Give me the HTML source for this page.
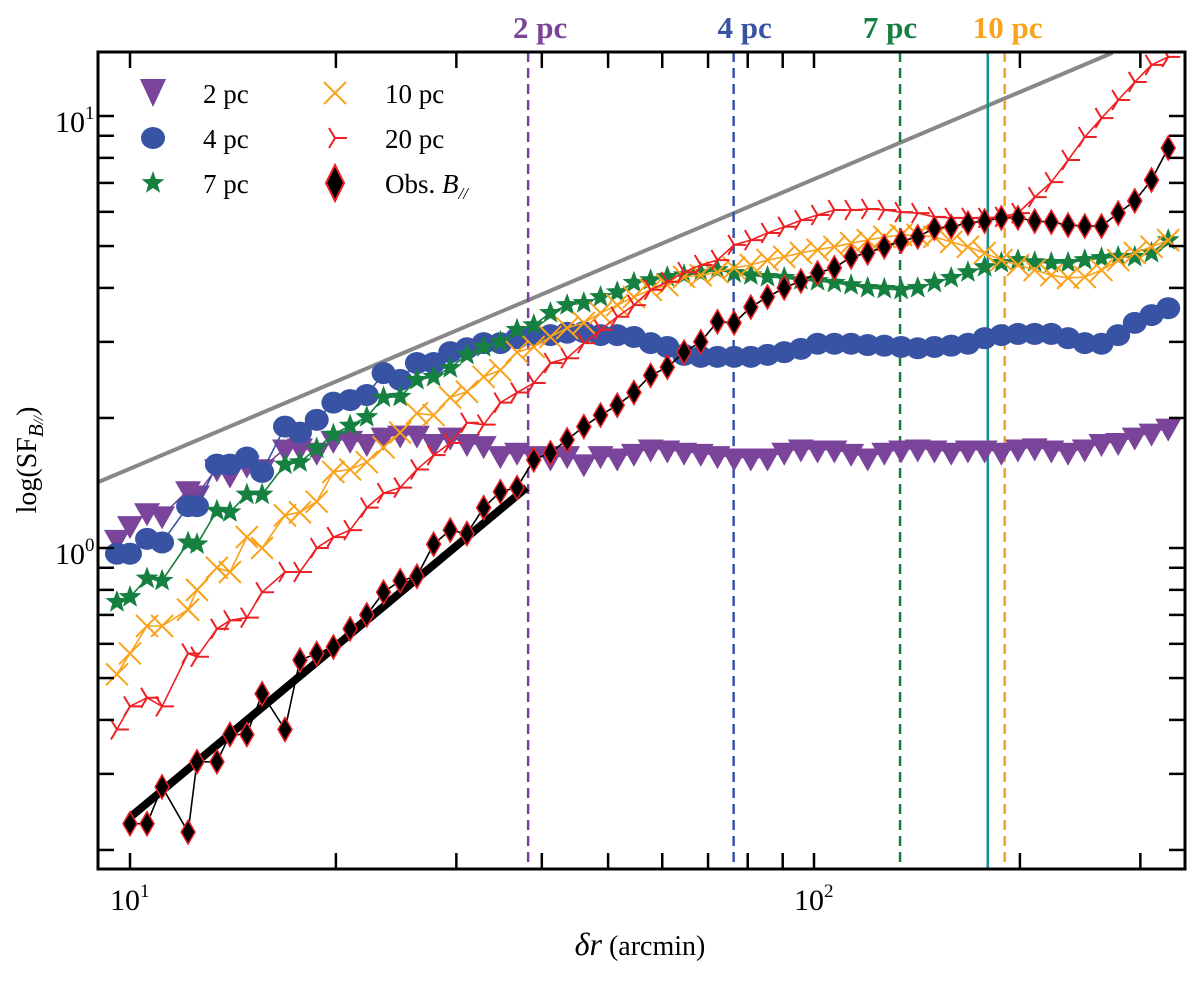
<!DOCTYPE html>
<html><head><meta charset="utf-8"><style>
html,body{margin:0;padding:0;background:#fff;}
svg{display:block;font-family:"Liberation Serif",serif;}
</style></head><body>
<svg id="chart" width="1200" height="987" viewBox="0 0 1200 987" xmlns="http://www.w3.org/2000/svg">
<g id="plot"></g>
</svg>
<script>
// ---- data ----
const xs = [9.57,10.0,10.59,11.14,12.16,12.53,13.40,14.0,14.82,15.6,16.85,
17.72,18.75,19.83,20.98,22.19,23.48,24.83,26.27,27.79,29.39,31.09,32.89,34.79,36.80,38.93,41.18,43.56,46.08,48.74,51.56,54.54,57.70,61.03,64.57,68.30,72.25,76.42,80.84,85.51,90.46,95.68,101.2,107.1,113.3,119.8,126.7,134.1,141.8,150.0,158.7,167.9,177.6,187.9,198.7,210.2,222.3,235.2,248.8,263.2,278.4,294.4,311.5,329.5];
const sf2pc = [1.05,1.13,1.21,1.19,1.36,1.33,1.53,1.48,1.56,1.53,1.70,
1.71,1.67,1.78,1.78,1.75,1.81,1.83,1.83,1.75,1.81,1.75,1.73,1.64,1.67,1.64,1.62,1.64,1.57,1.64,1.62,1.66,1.70,1.69,1.67,1.66,1.64,1.62,1.62,
1.62,1.67,1.70,1.69,1.69,1.66,1.62,1.67,1.69,1.70,1.69,1.67,1.69,1.69,1.67,1.70,1.71,1.69,1.67,1.70,1.75,1.76,1.81,1.85,1.90];
const sf4pc = [0.97,0.97,1.05,1.03,1.25,1.25,1.56,1.56,1.62,1.50,1.91,
1.85,1.98,2.17,2.20,2.26,2.54,2.45,2.68,2.68,2.84,2.90,2.98,2.98,3.06,3.11,3.11,3.15,3.16,3.11,3.11,3.08,2.98,2.92,2.80,2.77,2.77,2.77,2.77,
2.80,2.84,2.89,2.97,2.97,2.97,2.95,2.94,2.92,2.90,2.92,2.94,2.97,3.06,3.11,3.13,3.13,3.13,3.06,2.98,2.97,3.11,3.32,3.46,3.59];
const sf7pc = [0.75,0.77,0.85,0.84,1.03,1.02,1.22,1.21,1.33,1.33,1.56,
1.58,1.70,1.83,1.92,2.01,2.23,2.24,2.45,2.49,2.61,2.80,2.92,3.00,3.20,3.28,3.50,3.65,3.69,3.81,3.91,4.11,4.17,4.24,4.28,4.33,4.40,4.33,4.28,
4.24,4.22,4.17,4.15,4.11,4.06,4.00,3.98,3.96,4.00,4.11,4.22,4.35,4.47,4.57,4.64,4.59,4.57,4.57,4.64,4.69,4.72,4.72,4.82,5.16];
const sf10pc = [0.51,0.57,0.66,0.66,0.72,0.80,0.90,0.88,1.06,1.00,1.19,
1.21,1.28,1.50,1.52,1.58,1.71,1.85,2.05,2.03,2.23,2.30,2.49,2.58,2.84,2.92,3.08,3.23,3.32,3.50,3.65,3.81,3.96,4.06,4.24,4.28,4.35,4.45,4.52,
4.64,4.72,4.82,4.90,4.98,5.08,5.16,5.25,5.30,5.30,5.25,5.11,4.98,4.82,4.64,4.52,4.40,4.28,4.22,4.24,4.40,4.64,4.82,4.98,5.16];
const sf20pc = [0.38,0.43,0.45,0.43,0.57,0.56,0.65,0.68,0.69,0.79,0.88,
0.88,1.00,1.06,1.10,1.24,1.34,1.38,1.52,1.64,1.75,1.95,1.93,2.17,2.29,2.41,2.68,2.75,2.98,3.20,3.43,3.65,3.96,4.13,4.35,4.52,4.64,5.03,5.16,
5.36,5.54,5.74,5.90,6.06,6.06,6.09,6.06,5.99,5.96,5.84,5.81,5.81,5.81,5.84,5.96,6.49,7.03,7.91,8.94,9.89,10.89,11.99,13.13,13.70];
const obsX = xs.slice(1);
const sfObs = [0.23,0.23,0.28,0.22,0.32,0.32,0.37,0.37,0.46,0.38,
0.55,0.57,0.59,0.65,0.70,0.79,0.84,0.86,1.02,1.10,1.08,1.24,1.35,1.38,1.60,1.66,1.78,1.91,2.03,2.14,2.29,2.51,2.62,2.84,3.00,3.34,3.32,3.61,3.81,4.00,4.15,4.33,4.45,4.72,4.82,4.98,5.13,5.25,5.50,5.54,5.65,5.71,5.81,5.81,5.71,5.68,5.59,5.56,5.56,5.96,6.36,7.11,8.43];
const fitX = [10, 38];
const fitY = [0.238, 1.38];
const kolX = [8.98, 273];
const kolY = [1.42, 14.0];
const scaleLabels = ['2 pc','4 pc','7 pc','10 pc'];
const scaleX = [38.2, 76.3, 133.6, 190];
const beamX = [179.5];
const xMinorTicks = [20,30,40,50,60,70,80,90,200,300];
const xMajorTicks = [10,100];
const yMinorTicks = [0.2,0.3,0.4,0.5,0.6,0.7,0.8,0.9,2,3,4,5,6,7,8,9];
const yMajorTicks = [1,10];

// ---- axes ----
const L=98,R=1185,T=52,B=869;
const X0=130, XD=684, Y0=548, YD=432;
function xp(v){return X0+XD*(Math.log10(v)-1);}
function yp(v){return Y0-YD*Math.log10(v);}
const NS="http://www.w3.org/2000/svg";
const g=document.getElementById('plot');
function el(tag,attrs,parent){const e=document.createElementNS(NS,tag);for(const k in attrs)e.setAttribute(k,attrs[k]);(parent||g).appendChild(e);return e;}

const defs=el('defs',{});
const cp=el('clipPath',{id:'clip'},defs);
el('rect',{x:L,y:T,width:R-L,height:B-T},cp);
const plot=el('g',{'clip-path':'url(#clip)'});



const kl=el('line',{x1:xp(kolX[0]),y1:yp(kolY[0]),x2:xp(kolX[1]),y2:yp(kolY[1]),stroke:'#888',"stroke-width":4},plot);



const vcols=['#7b449b','#3953a4','#168040','#f9a21b'];
scaleX.forEach((v,i)=>{
  const ln=el('line',{x1:xp(v),x2:xp(v),y1:T,y2:B,stroke:vcols[i],"stroke-width":2.5,"stroke-dasharray":"10,6"},plot);
  
  
  const t=el('text',{x:xp(v)+(i==0?12:i==1?11:i==2?-10:3),y:38,"text-anchor":"middle","font-size":31,"font-weight":"bold",fill:vcols[i]});
  t.textContent=scaleLabels[i];
  
  
});
beamX.forEach(v=>{
  const ln=el('line',{x1:xp(v),x2:xp(v),y1:T,y2:B,stroke:'#14908f',"stroke-width":2.5},plot);
  
  
});

const fl=el('line',{x1:xp(fitX[0]),y1:yp(fitY[0]),x2:xp(fitX[1]),y2:yp(fitY[1]),stroke:'#000',"stroke-width":8},plot);



function marker(type,x,y,color,parent){
  let m;
  if(type==='tri'){m=el('polygon',{points:`${x-13},${y-9} ${x+13},${y-9} ${x},${y+14}`,fill:color},parent);}
  else if(type==='circle'){m=el('ellipse',{cx:x,cy:y,rx:12,ry:11,fill:color},parent);}
  else if(type==='star'){let p=[];for(let k=0;k<10;k++){const r=k%2?5:12;const a=-Math.PI/2+k*Math.PI/5;p.push((x+r*Math.cos(a)).toFixed(1)+','+(y+r*Math.sin(a)).toFixed(1));}
    m=el('polygon',{points:p.join(' '),fill:color},parent);}
  else if(type==='x'){m=el('path',{d:`M${x-11},${y-11}L${x+11},${y+11}M${x-11},${y+11}L${x+11},${y-11}`,stroke:color,"stroke-width":2,fill:'none'},parent);}
  else if(type==='triR'){m=el('path',{d:`M${x},${y}L${x+12},${y}M${x},${y}L${x-6},${y-10}M${x},${y}L${x-6},${y+10}`,stroke:color,"stroke-width":2,fill:'none'},parent);}
  else if(type==='diamond'){m=el('polygon',{points:`${x},${y-12} ${x+7},${y} ${x},${y+12} ${x-7},${y}`,fill:'#000',stroke:'#ee2024',"stroke-width":1.5},parent);}
  return m;
}
const series=[
  {name:'2pc',xv:xs,yv:sf2pc,color:'#7b449b',m:'tri'},
  {name:'4pc',xv:xs,yv:sf4pc,color:'#3953a4',m:'circle'},
  {name:'7pc',xv:xs,yv:sf7pc,color:'#168040',m:'star'},
  {name:'10pc',xv:xs,yv:sf10pc,color:'#f9a21b',m:'x'},
  {name:'20pc',xv:xs,yv:sf20pc,color:'#ee2024',m:'triR'},
  {name:'obs',xv:obsX,yv:sfObs,color:'#000',m:'diamond'}
];
series.forEach(s=>{
  const grp=el('g',{},plot);
  
  
  const pts=s.yv.map((v,i)=>xp(s.xv[i]).toFixed(1)+','+yp(v).toFixed(1)).join(' ');
  const pl=el('polyline',{points:pts,fill:'none',stroke:s.color,"stroke-width":1.6},grp);
  
  
  s.yv.forEach((v,i)=>{
    const mk=marker(s.m,xp(s.xv[i]),yp(v),s.color,grp);
    
    
  });
});

const fr=el('rect',{x:L,y:T,width:R-L,height:B-T,fill:'none',stroke:'#000',"stroke-width":3});



const tk=el('g',{stroke:'#000',"stroke-width":2.5});


xMajorTicks.concat(xMinorTicks).forEach(v=>{
  el('line',{x1:xp(v),x2:xp(v),y1:B,y2:B-16},tk);
  el('line',{x1:xp(v),x2:xp(v),y1:T,y2:T+16},tk);
});
yMajorTicks.concat(yMinorTicks).forEach(v=>{
  el('line',{x1:L,x2:L+16,y1:yp(v),y2:yp(v)},tk);
  el('line',{x1:R,x2:R-16,y1:yp(v),y2:yp(v)},tk);
});
xMajorTicks.forEach((v,i)=>{
  const t=el('text',{x:xp(v)-20,y:910,"font-size":30});
  t.innerHTML='10<tspan dy="-13" font-size="19">'+(i+1)+'</tspan>';
  
  
});
yMajorTicks.forEach((v,i)=>{
  const t=el('text',{x:55,y:yp(v)+16,"font-size":30});
  t.innerHTML='10<tspan dy="-13" font-size="19">'+i+'</tspan>';
  
  
});
const xt=el('text',{x:640,y:955,"text-anchor":"middle","font-size":28});
xt.innerHTML='<tspan font-style="italic" font-size="32">δr</tspan> (arcmin)';


const yt=el('text',{x:0,y:0,"text-anchor":"middle","font-size":28,transform:'translate(36,460) rotate(-90)'});
yt.innerHTML='log(SF<tspan dy="7" font-size="21" font-style="italic">B<tspan font-size="15">//</tspan></tspan><tspan dy="-7">)</tspan>';



const legNames=['2 pc','4 pc','7 pc','10 pc','20 pc','Obs. '];
const legTypes=['tri','circle','star','x','triR','diamond'];
const legCols=['#7b449b','#3953a4','#168040','#f9a21b','#ee2024','#000'];
const lg=el('g',{});


legNames.forEach((n,i)=>{
  const col=Math.floor(i/3), row=i%3;
  const mx=col?335:153, tx=col?385:203, y=93+row*45;
  const e=el('g',{},lg);
  
  
  if(legTypes[i]==='tri') el('polygon',{points:`${mx-13},${y-14} ${mx+13},${y-14} ${mx},${y+14}`,fill:legCols[i]},e);
  else if(legTypes[i]==='diamond') el('polygon',{points:`${mx},${y-18} ${mx+9},${y} ${mx},${y+18} ${mx-9},${y}`,fill:'#000',stroke:'#ee2024',"stroke-width":2},e);
  else marker(legTypes[i],mx,y,legCols[i],e);
  const t=el('text',{x:tx,y:y+10,"font-size":27},e);
  if(i===5) t.innerHTML='Obs. <tspan font-style="italic">B</tspan><tspan font-style="italic" font-size="17" dy="6">//</tspan>';
  else t.textContent=n;
});
</script>
</body></html>
